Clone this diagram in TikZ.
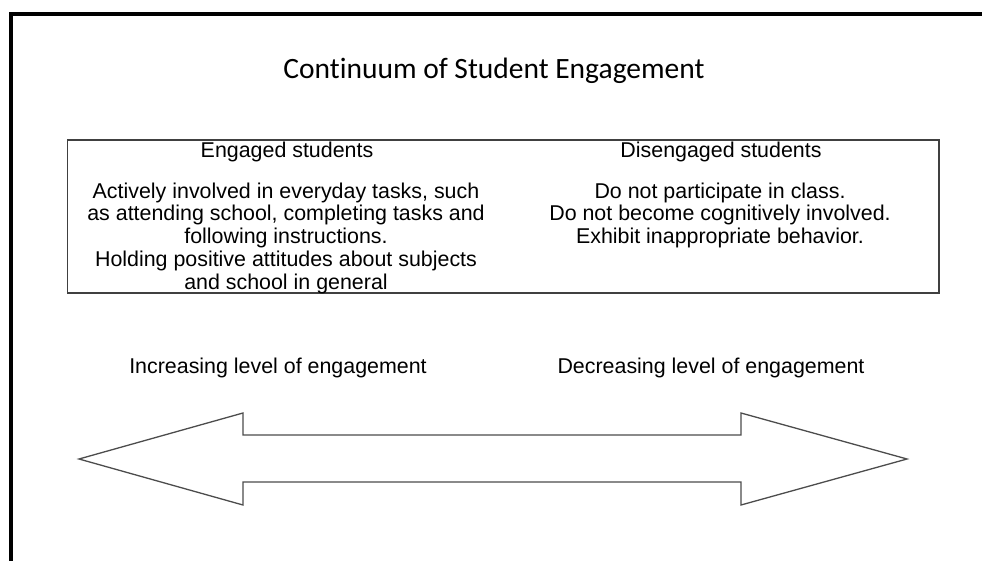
\documentclass[tikz,border=0pt]{standalone}
\usepackage{fontspec}
\setmainfont{Liberation Sans}
\newfontfamily\titlefont[Ligatures=NoCommon]{Carlito}
\usetikzlibrary{positioning}

\begin{document}
\begin{tikzpicture}[x=1pt,y=-1pt,txt/.style={inner sep=0pt,align=center,font=\fontsize{21.4}{22.7}\selectfont},head/.style={txt,anchor=base},body/.style={txt,anchor=north},frameline/.style={draw=black,line width=4pt},boxline/.style={draw=black!75,line width=1.3pt},arrline/.style={draw=black!70,line width=1.3pt,line join=miter}]
            \useasboundingbox (0,0) rectangle (982,561);
            \clip (0,0) rectangle (982,561);
            \draw[frameline] (11,14.5) rectangle (1010,600);

            \node[inner sep=0pt,anchor=base,font=\titlefont\fontsize{29.5}{31}\selectfont] (title) at (494,79) {Continuum of Student Engagement};

            \draw[boxline] (67.5,140) rectangle (939,293);
            \node[head] (h1) at (287,158) {Engaged students};
            \node[head] (h2) at (721,158) {Disengaged students};
            \node[body] (b1) at (286,182.5) {Actively involved in everyday tasks, such\\as attending school, completing tasks and\\following instructions.\\Holding positive attitudes about subjects\\and school in general};
            \node[body] (b2) at (720,182.5) {Do not participate in class.\\Do not become cognitively involved.\\Exhibit inappropriate behavior.};

            \node[head] (inc) at (278,373) {Increasing level of engagement};
            \node[head] (dec) at (711,373) {Decreasing level of engagement};

            \draw[arrline] (79,459) -- (243,413) -- (243,435) -- (741,435) -- (741,413) -- (907,459) -- (741,505) -- (741,482) -- (243,482) -- (243,505) -- cycle;
          \end{tikzpicture}
\end{document}
